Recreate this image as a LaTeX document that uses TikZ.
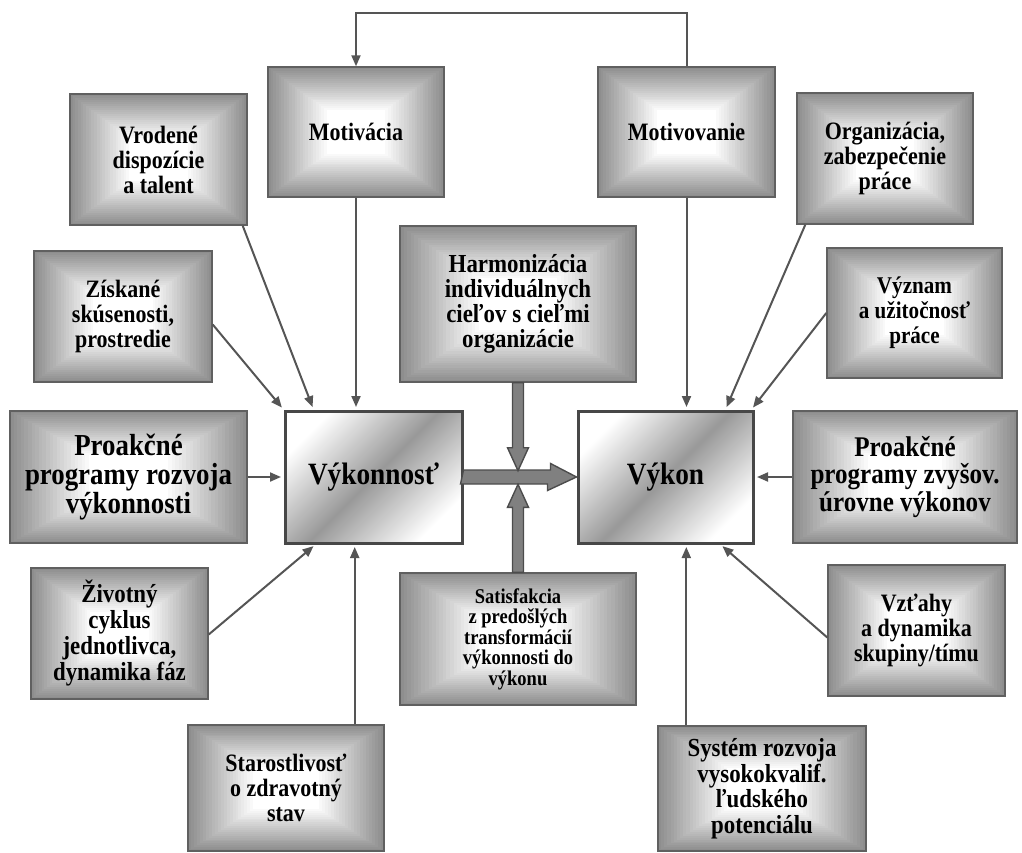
\documentclass[tikz,border=0pt]{standalone}
\usepackage{fontspec}
\setmainfont{Liberation Serif}[FakeStretch=0.88]
\usetikzlibrary{arrows.meta,calc}

\definecolor{boxedge}{HTML}{8E8E8E}
\definecolor{boxline}{HTML}{606060}
\definecolor{linkgray}{HTML}{555555}

% text sizes used in the boxes
\newcommand\txtmid{\fontsize{25}{25}\selectfont\bfseries}
\newcommand\txtprl{\fontsize{30.5}{29}\selectfont\bfseries}
\newcommand\txtprr{\fontsize{28.5}{27.5}\selectfont\bfseries}
\newcommand\txtsmall{\fontsize{21}{20.5}\selectfont\bfseries}
\newcommand\txtmain{\fontsize{31}{30}\selectfont\bfseries}
\newcommand\txtharm{\fontsize{26}{25}\selectfont\bfseries}
\newcommand\txtvyz{\fontsize{24}{25}\selectfont\bfseries}
\newcommand\txtziv{\fontsize{26}{26}\selectfont\bfseries}
\newcommand\txtsys{\fontsize{26}{25.5}\selectfont\bfseries}

% box with a rectangular gray-to-white gradient:
% [font]{name}{x1}{y1}{x2}{y2}{text}
\newcommand\gbox[7][\txtmid]{%
  \pgfmathsetmacro\gcx{(#3+#5)/2}%
  \pgfmathsetmacro\gcy{(#4+#6)/2}%
  \pgfmathsetmacro\ghw{(#5-#3)/2}%
  \pgfmathsetmacro\ghh{(#6-#4)/2}%
  \foreach \gstep in {0,...,22}{%
    \pgfmathsetmacro\gscl{1-\gstep/33}%
    \pgfmathtruncatemacro\gshade{min(100,100*(\gstep/22))}%
    \fill[white!\gshade!boxedge]
      ({\gcx-\gscl*\ghw},{\gcy-\gscl*\ghh}) rectangle ({\gcx+\gscl*\ghw},{\gcy+\gscl*\ghh});
  }%
  \node[gradbox, minimum width={#5-#3}, minimum height={#6-#4}, font=#1]
    (#2) at (\gcx,\gcy) {#7};%
}

\begin{document}
\begin{tikzpicture}[x=1pt,y=-1pt,
  gradbox/.style={draw=boxline, line width=1.4pt, inner sep=0pt, align=center},
  mainbox/.style={draw=black!72, line width=3pt, inner sep=0pt, align=center,
    shading=axis, top color=white, bottom color=white, middle color=black!40,
    shading angle=45, font=\txtmain},
  conn/.style={draw=linkgray, line width=2pt,
    -{Triangle[length=11pt,width=9pt]}, shorten >=2.5pt},
  fat/.style={fill=black!50, draw=black!70, line width=1.4pt, line join=miter}
]
\useasboundingbox (0,0) rectangle (1022,853);

% outer factor boxes
\gbox{vro}{70}{94}{247}{225}{Vrodené\\dispozície\\a talent}
\gbox{mot}{268}{67}{444}{197}{Motivácia}
\gbox{mvv}{598}{67}{775}{197}{Motivovanie}
\gbox{org}{797}{93}{973}{224}{Organizácia,\\zabezpečenie\\práce}
\gbox{zis}{34}{251}{212}{382}{Získané\\skúsenosti,\\prostredie}
\gbox[\txtharm]{harm}{400}{226}{636}{382}{Harmonizácia\\individuálnych\\cieľov s cieľmi\\organizácie}
\gbox[\txtvyz]{vyz}{827}{248}{1002}{378}{Význam\\a užitočnosť\\práce}
\gbox[\txtprl]{pr1}{10}{411}{247}{543}{Proakčné\\programy rozvoja\\výkonnosti}
\gbox[\txtprr]{pr2}{793}{411}{1017}{543}{Proakčné\\programy zvyšov.\\úrovne výkonov}
\gbox[\txtziv]{ziv}{31}{568}{208}{699}{Životný\\cyklus\\jednotlivca,\\dynamika fáz}
\gbox[\txtsmall]{sat}{400}{573}{636}{705}{Satisfakcia\\z predošlých\\transformácií\\výkonnosti do\\výkonu}
\gbox{vzt}{828}{565}{1005}{696}{Vzťahy\\a dynamika\\skupiny/tímu}
\gbox{sta}{188}{725}{384}{851}{Starostlivosť\\o zdravotný\\stav}
\gbox[\txtsys]{sys}{658}{726}{866}{851}{Systém rozvoja\\vysokokvalif.\\ľudského\\potenciálu}

% the two central boxes
\node[mainbox, minimum width=177, minimum height=132] (vkn) at (373.5,477) {Výkonnosť};
\node[mainbox, minimum width=175, minimum height=132] (vkon) at (665.5,477) {Výkon};

% feedback from Motivovanie to Motivácia
\draw[conn, shorten >=0pt] (mvv.north) -- ++(0,-53) -| (mot.north);

% arrows into Výkonnosť
\draw[conn] ($(vro.south east)+(-5,0)$) -- ($(vkn.north west)+(30,0)$);
\draw[conn] (mot.south) -- (mot.south |- vkn.north);
\draw[conn] ($(zis.east)+(0,8)$) -- (vkn.north west);
\draw[conn] (pr1.east) -- (vkn.west);
\draw[conn] ($(ziv.east)+(0,1)$) -- ($(vkn.south west)+(32,0)$);
\draw[conn] ($(sta.north east)+(-30,0)$) coordinate (staup) -- (staup |- vkn.south);

% arrows into Výkon
\draw[conn] (mvv.south) -- (mvv.south |- vkon.north);
\draw[conn] ($(org.south west)+(9,0)$) -- ($(vkon.north east)+(-29,0)$);
\draw[conn] (vyz.west) -- ($(vkon.north east)+(-3,0)$);
\draw[conn] (pr2.west) -- (vkon.east);
\draw[conn] ($(vzt.west)+(0,7)$) -- ($(vkon.south east)+(-34,0)$);
\draw[conn] ($(sys.north west)+(29,0)$) coordinate (sysup) -- (sysup |- vkon.south);

% broad arrows in the centre
\filldraw[fat] (vkn.east) ++(0,-7) -- ++(87,0) -- ++(0,-6.5) -- (vkon.west)
  -- ++(-29,13.5) -- ++(0,-6.5) -- ++(-87,0) -- cycle;
\filldraw[fat] (harm.south) ++(-5.5,0) -- ++(0,65) -- ++(-5,0) -- ++(10.5,23)
  -- ++(10.5,-23) -- ++(-5,0) -- ++(0,-65) -- cycle;
\filldraw[fat] (sat.north) ++(-5.5,0) -- ++(0,-65) -- ++(-5,0) -- ++(10.5,-23)
  -- ++(10.5,23) -- ++(-5,0) -- ++(0,65) -- cycle;
\end{tikzpicture}
\end{document}
